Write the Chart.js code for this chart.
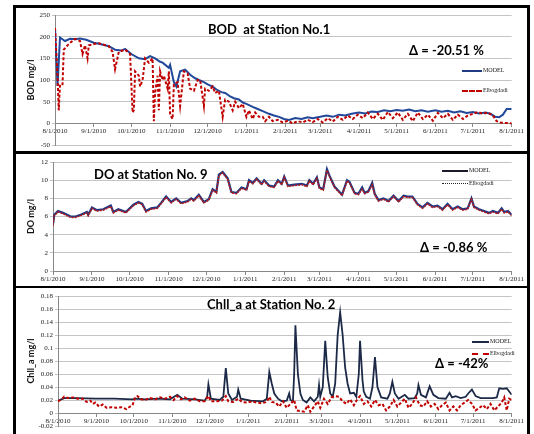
<!DOCTYPE html>
<html lang="en">
<head>
  <meta charset="UTF-8" />
  <title>BOD / DO / Chll_a</title>
  <script src="https://cdn.jsdelivr.net/npm/chart.js"></script>
  <style>
    body { margin: 0; background: #fff; width: 534px; height: 434px; overflow: hidden; position: relative; font-family: Lato, "Liberation Sans", sans-serif; }
    .frame { position: absolute; left: 13px; top: 5px; width: 517px; height: 440px; border: 3px solid #000; box-sizing: border-box; }
    .sep { position: absolute; left: 13px; width: 517px; background: #000; }
    canvas { position: absolute; }
    .txt { position: absolute; font-weight: bold; color: #000; white-space: nowrap; font-size: 13px; }
    .leg { position: absolute; font-size: 6px; color: #222; white-space: nowrap; font-family: "Liberation Serif", serif; }
    .leg span { display: inline-block; width: 20px; vertical-align: middle; margin-right: 1px; }
  </style>
</head>
<body>
  <div class="frame"></div>
  <div class="sep" style="top:151px;height:3px"></div>
  <div class="sep" style="top:286px;height:2px"></div>

  <canvas id="bodChart" width="509" height="144" style="left:16px;top:8px"></canvas>
  <canvas id="doChart" width="509" height="131" style="left:16px;top:155px"></canvas>
  <canvas id="chlChart" width="509" height="146" style="left:16px;top:288px"></canvas>

  <!-- titles, deltas and legends -->
  <div class="txt" style="left:208px;top:21px">BOD&nbsp; at Station No.1</div>
  <div class="txt" style="left:409px;top:42px">Δ = -20.51 %</div>
  <div class="leg" style="left:462px;top:67px"><span style="border-top:2px solid #1f3d80"></span>MODEL</div>
  <div class="leg" style="left:462px;top:87px"><span style="border-top:2px dashed #c00000"></span>Elbogdadi</div>

  <div class="txt" style="left:94px;top:166px">DO at Station No. 9</div>
  <div class="txt" style="left:420px;top:239px">Δ = -0.86 %</div>
  <div class="leg" style="left:442px;top:167px"><span style="border-top:2px solid #1a1a2a;width:26px"></span>MODEL</div>
  <div class="leg" style="left:442px;top:180px"><span style="border-top:1px dotted #222;width:26px"></span>Elbogdadi</div>

  <div class="txt" style="left:207px;top:296px">Chll_a at Station No. 2</div>
  <div class="txt" style="left:435px;top:355px">Δ = -42%</div>
  <div class="leg" style="left:472px;top:338px"><span style="border-top:2px solid #1c2a48;width:17px"></span>MODEL</div>
  <div class="leg" style="left:472px;top:350px"><span style="border-top:2px dashed #c00000;width:17px"></span>Elbogdadi</div>

  <script>
    // month ticks: days since 8/1/2010
    const monthDays = [0, 31, 61, 92, 122, 153, 184, 212, 243, 273, 304, 334, 365];
    const monthLabels = ['8/1/2010', '9/1/2010', '10/1/2010', '11/1/2010', '12/1/2010', '1/1/2011',
      '2/1/2011', '3/1/2011', '4/1/2011', '5/1/2011', '6/1/2011', '7/1/2011', '8/1/2011'];

    // BOD at Station No.1  [day, mg/l]
    const bodModel = [[0,220],[2,86],[4,198],[8,190],[12,195],[16,194],[20,196],[25,193],[31,186],[36,183],
      [43,178],[48,170],[53,168],[56,172],[61,160],[67,150],[72,148],[76,155],[80,150],[84,142],
      [86,140],[91,128],[92,135],[95,95],[97,85],[100,120],[104,124],[108,112],[112,104],[115,100],
      [119,95],[122,90],[126,85],[129,78],[133,72],[136,70],[140,62],[143,58],[147,55],[150,48],
      [153,45],[158,38],[162,33],[166,28],[171,22],[175,18],[179,15],[183,10],[187,8],[192,12],
      [197,10],[202,14],[206,12],[212,15],[217,18],[222,15],[227,20],[232,18],[237,22],[243,25],
      [248,23],[253,27],[258,26],[263,30],[268,28],[273,31],[278,29],[283,32],[288,28],[293,30],
      [298,27],[304,30],[309,27],[314,29],[319,25],[324,28],[329,24],[334,26],[339,23],[344,25],
      [348,22],[352,15],[355,14],[358,20],[361,33],[365,33]];
    const bodElb = [[0,220],[2,110],[3,30],[4,90],[6,90],[7,170],[10,180],[13,188],[16,195],[20,190],
      [22,160],[24,180],[26,150],[27,180],[31,183],[35,185],[38,182],[43,178],[46,165],[48,125],
      [51,165],[56,170],[60,160],[62,25],[63,30],[64,120],[67,110],[68,85],[70,100],[72,150],
      [75,140],[78,150],[79,5],[80,70],[82,110],[83,30],[84,120],[86,100],[87,110],[90,80],
      [91,120],[92,20],[94,10],[95,90],[98,95],[100,40],[103,120],[106,115],[108,80],[111,75],
      [114,100],[116,100],[119,40],[120,80],[123,75],[126,85],[128,70],[131,75],[134,15],[136,55],
      [139,50],[142,30],[144,50],[147,35],[150,45],[153,15],[155,30],[158,10],[160,25],[163,15],
      [166,15],[168,5],[171,15],[174,5],[178,8],[182,2],[186,6],[190,0],[194,5],[198,2],
      [202,8],[206,3],[210,10],[214,2],[218,12],[222,4],[226,15],[230,8],[234,18],[238,10],
      [242,20],[246,12],[250,25],[254,10],[258,22],[262,8],[266,26],[270,12],[274,25],[278,8],
      [282,22],[286,5],[290,25],[294,10],[298,20],[302,6],[306,24],[310,12],[314,22],[318,8],
      [322,20],[326,10],[330,18],[334,22],[338,26],[342,22],[346,25],[350,18],[353,5],[356,2],
      [360,1],[365,0]];

    // DO at Station No. 9  [day, mg/l]
    const doModel = [[0,5.2],[1,6.2],[4,6.6],[8,6.4],[14,6.0],[18,6.0],[22,6.2],[27,6.5],[28,6.2],[31,7.0],
      [35,6.7],[40,6.8],[46,7.2],[48,6.5],[52,6.8],[58,6.5],[64,7.3],[68,7.6],[71,7.4],[74,6.6],
      [78,6.9],[83,7.0],[86,7.5],[90,8.2],[94,7.6],[98,8.0],[102,7.5],[107,7.7],[110,8.0],[112,7.8],
      [116,8.4],[120,7.6],[124,7.9],[127,9.0],[130,8.7],[132,10.6],[135,10.9],[139,10.2],[142,8.7],[146,8.6],
      [150,9.2],[154,9.0],[156,10.0],[159,9.7],[162,10.2],[166,9.6],[168,10.0],[172,9.4],[176,9.3],[179,10.0],
      [182,9.6],[184,10.4],[187,9.4],[192,9.5],[198,9.6],[202,9.4],[204,10.0],[207,9.6],[210,10.3],[212,9.2],
      [215,9.0],[218,11.2],[220,10.5],[224,9.3],[230,8.4],[234,10.0],[236,9.8],[240,8.6],[243,8.5],[246,9.2],
      [248,8.6],[251,8.8],[254,9.7],[256,8.5],[259,7.8],[263,8.0],[267,7.7],[271,8.3],[275,7.7],[279,8.3],
      [282,8.2],[286,8.2],[290,7.4],[294,7.0],[298,7.5],[302,7.1],[306,7.2],[310,6.8],[314,7.4],[318,6.8],
      [322,7.1],[326,6.8],[330,6.9],[333,8.0],[335,7.1],[339,6.8],[343,6.6],[347,6.4],[350,6.6],[354,6.4],
      [357,6.9],[359,6.5],[362,6.6],[365,6.2]];
    const doElb = [[0,5.0],[1,6.1],[4,6.5],[8,6.3],[14,5.9],[18,5.9],[22,6.1],[27,6.4],[28,6.1],[31,6.9],
      [35,6.6],[40,6.7],[46,7.1],[48,6.4],[52,6.7],[58,6.4],[64,7.2],[68,7.5],[71,7.3],[74,6.5],
      [78,6.8],[83,6.9],[86,7.4],[90,8.1],[94,7.5],[98,7.9],[102,7.4],[107,7.6],[110,7.9],[112,7.7],
      [116,8.3],[120,7.5],[124,7.8],[127,8.9],[130,8.6],[132,10.5],[135,10.8],[139,10.1],[142,8.6],[146,8.5],
      [150,9.1],[154,8.9],[156,9.9],[159,9.6],[162,10.1],[166,9.5],[168,9.9],[172,9.3],[176,9.2],[179,9.9],
      [182,9.5],[184,10.3],[187,9.3],[192,9.4],[198,9.5],[202,9.3],[204,9.9],[207,9.5],[210,10.2],[212,9.1],
      [215,8.9],[218,11.1],[220,10.4],[224,9.2],[230,8.3],[234,9.9],[236,9.7],[240,8.5],[243,8.4],[246,9.0],
      [248,8.5],[251,8.7],[254,9.5],[256,8.4],[259,7.7],[263,7.9],[267,7.6],[271,8.2],[275,7.6],[279,8.2],
      [282,8.1],[286,8.1],[290,7.3],[294,6.9],[298,7.4],[302,7.0],[306,7.1],[310,6.7],[314,7.3],[318,6.7],
      [322,7.0],[326,6.7],[330,6.8],[333,7.9],[335,7.0],[339,6.7],[343,6.5],[347,6.3],[350,6.5],[354,6.3],
      [357,6.8],[359,6.4],[362,6.5],[365,6.1]];

    // Chll_a at Station No. 2  [day, mg/l]
    const chlModel = [[0,0.019],[5,0.023],[15,0.023],[30,0.022],[45,0.022],[60,0.021],[62,0.022],[70,0.021],[80,0.022],[90,0.021],
      [96,0.028],[100,0.022],[110,0.021],[118,0.019],[120,0.025],[121,0.044],[123,0.022],[130,0.020],[133,0.025],[135,0.069],
      [137,0.030],[140,0.020],[144,0.025],[145,0.036],[147,0.022],[155,0.019],[165,0.018],[168,0.022],[170,0.063],[172,0.045],
      [174,0.030],[177,0.022],[180,0.018],[184,0.019],[186,0.030],[187,0.020],[189,0.018],[190,0.060],[191,0.135],[193,0.060],
      [195,0.030],[197,0.020],[200,0.016],[203,0.024],[206,0.018],[209,0.025],[210,0.043],[211,0.025],[213,0.040],[215,0.111],
      [217,0.055],[219,0.030],[221,0.025],[223,0.045],[225,0.120],[227,0.155],[229,0.120],[231,0.070],[233,0.045],[235,0.030],
      [238,0.031],[240,0.025],[242,0.060],[243,0.111],[245,0.050],[246,0.033],[248,0.025],[251,0.022],[253,0.040],[255,0.086],
      [257,0.040],[260,0.024],[265,0.022],[267,0.030],[269,0.048],[271,0.030],[274,0.022],[279,0.028],[282,0.022],[287,0.023],
      [289,0.030],[290,0.043],[292,0.028],[296,0.024],[299,0.041],[302,0.028],[306,0.023],[312,0.022],[315,0.031],[317,0.024],
      [320,0.026],[324,0.023],[328,0.025],[330,0.030],[333,0.036],[336,0.026],[340,0.023],[345,0.023],[350,0.023],[353,0.024],
      [355,0.038],[358,0.037],[361,0.038],[363,0.033],[365,0.028]];
    const chlElb = [[0,0.018],[3,0.021],[5,0.025],[8,0.023],[12,0.024],[16,0.022],[20,0.022],[23,0.017],[26,0.019],[28,0.014],
      [30,0.016],[33,0.010],[36,0.013],[39,0.008],[43,0.009],[47,0.008],[51,0.009],[55,0.006],[58,0.010],[60,0.012],
      [62,0.024],[64,0.026],[67,0.021],[70,0.020],[74,0.023],[78,0.021],[82,0.024],[86,0.022],[90,0.025],[93,0.020],
      [96,0.026],[99,0.021],[102,0.024],[106,0.019],[110,0.022],[114,0.018],[118,0.018],[121,0.026],[123,0.018],[128,0.018],
      [132,0.019],[135,0.026],[137,0.018],[141,0.017],[145,0.022],[148,0.017],[152,0.016],[156,0.018],[160,0.016],[164,0.015],
      [168,0.017],[170,0.025],[172,0.017],[175,0.016],[178,0.010],[181,0.018],[184,0.008],[187,0.014],[190,0.020],[192,0.004],
      [195,0.003],[198,0.002],[201,0.012],[203,0.002],[206,0.010],[209,0.018],[211,0.008],[214,0.022],[217,0.014],[220,0.024],
      [223,0.026],[226,0.025],[229,0.018],[232,0.014],[235,0.021],[238,0.012],[241,0.022],[243,0.026],[246,0.014],[249,0.018],
      [252,0.010],[255,0.020],[258,0.012],[261,0.014],[264,0.004],[267,0.010],[270,0.020],[273,0.010],[276,0.016],[279,0.022],
      [282,0.008],[285,0.014],[288,0.024],[291,0.012],[294,0.010],[297,0.018],[300,0.010],[303,0.014],[306,0.006],[309,0.012],
      [312,0.016],[315,0.004],[318,0.010],[321,0.004],[324,0.012],[327,0.016],[330,0.020],[333,0.014],[336,0.004],[339,0.008],
      [342,0.012],[345,0.006],[348,0.014],[351,0.004],[354,0.010],[357,0.016],[359,0.024],[361,0.004],[363,0.022],[365,0.020]];

    const toXY = arr => arr.map(p => ({ x: p[0], y: p[1] }));

    function makeChart(id, opts) {
      return new Chart(document.getElementById(id), {
        type: 'line',
        data: {
          datasets: [
            { label: 'Elbogdadi', data: toXY(opts.elb), borderColor: opts.elbColor, borderWidth: opts.elbWidth,
              borderDash: opts.elbDash, pointRadius: 0, tension: 0, order: 0 },
            { label: 'MODEL', data: toXY(opts.model), borderColor: opts.modelColor, borderWidth: opts.modelWidth,
              pointRadius: 0, tension: 0, order: 1 }
          ]
        },
        options: {
          responsive: false,
          animation: false,
          devicePixelRatio: 1,
          layout: { padding: opts.padding },
          plugins: { legend: { display: false }, tooltip: { enabled: false } },
          scales: {
            x: {
              type: 'linear', min: 0, max: 365,
              position: { y: 0 },
              afterBuildTicks: s => { s.ticks = monthDays.map(v => ({ value: v })); },
              grid: { drawOnChartArea: false, color: '#888', tickLength: 3 },
              border: { color: '#888' },
              ticks: {
                autoSkip: false, maxRotation: 0, minRotation: 0, padding: 1, color: '#222',
                font: { family: 'Liberation Serif', size: 7 },
                callback: v => monthLabels[monthDays.indexOf(v)]
              }
            },
            y: {
              min: opts.yMin, max: opts.yMax,
              afterFit: s => { s.width = opts.yWidth; },
              grid: { color: '#c4c4c4', tickLength: 3 },
              border: { color: '#888' },
              ticks: {
                stepSize: opts.yStep, padding: 2, color: '#222',
                font: { family: 'Liberation Serif', size: 7 },
                callback: v => String(Number(v.toFixed(2)))
              },
              title: {
                display: true, text: opts.yTitle, color: '#111',
                font: { family: 'Lato', size: 9, weight: 'bold' },
                padding: { top: 10, bottom: 0 }
              }
            }
          }
        }
      });
    }

    makeChart('bodChart', {
      model: bodModel, elb: bodElb,
      modelColor: '#22489a', modelWidth: 2, elbColor: '#c00000', elbWidth: 2, elbDash: [3, 2],
      yMin: -50, yMax: 250, yStep: 50, yWidth: 39, yTitle: 'BOD mg/l',
      padding: { top: 7, right: 3, bottom: 7, left: 0 }
    });
    makeChart('doChart', {
      model: doModel, elb: doElb,
      modelColor: '#1e3a86', modelWidth: 2.2, elbColor: '#b81818', elbWidth: 1.5, elbDash: [2, 1],
      yMin: 0, yMax: 12, yStep: 2, yWidth: 37, yTitle: 'DO mg/l',
      padding: { top: 7, right: 3, bottom: 15, left: 0 }
    });
    makeChart('chlChart', {
      model: chlModel, elb: chlElb,
      modelColor: '#1c2a48', modelWidth: 1.8, elbColor: '#c00000', elbWidth: 2, elbDash: [3, 2],
      yMin: -0.02, yMax: 0.18, yStep: 0.02, yWidth: 42, yTitle: 'Chll_a mg/l',
      padding: { top: 8, right: 3, bottom: 8, left: 0 }
    });
  </script>
</body>
</html>
